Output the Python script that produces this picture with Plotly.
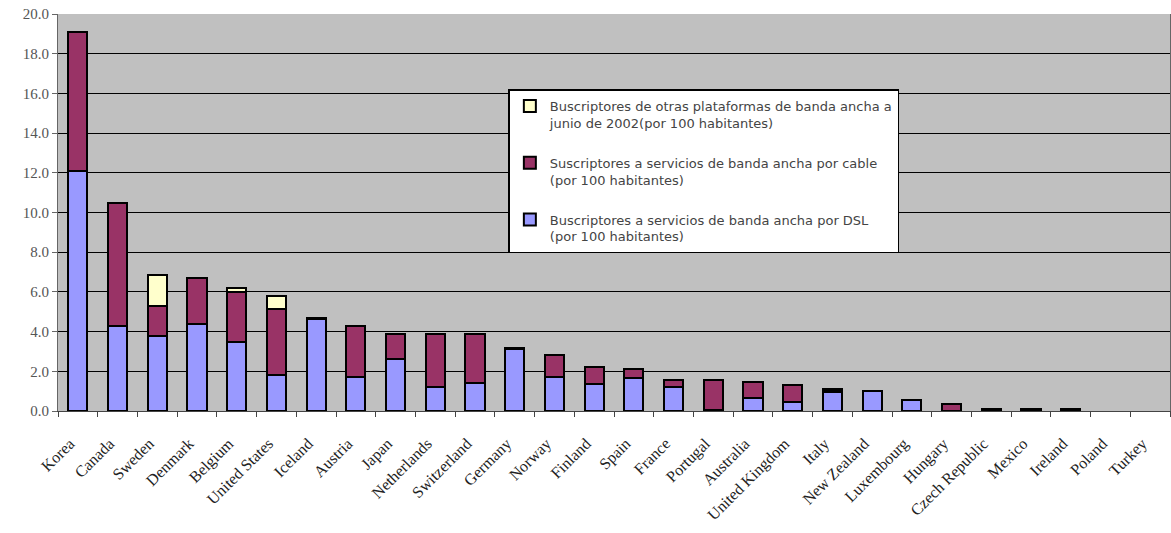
import plotly.graph_objects as go

countries = ["Korea", "Canada", "Sweden", "Denmark", "Belgium", "United States", "Iceland",
             "Austria", "Japan", "Netherlands", "Switzerland", "Germany", "Norway", "Finland",
             "Spain", "France", "Portugal", "Australia", "United Kingdom", "Italy", "New Zealand",
             "Luxembourg", "Hungary", "Czech Republic", "Mexico", "Ireland", "Poland", "Turkey"]

dsl = [12.1, 4.3, 3.8, 4.4, 3.5, 1.8, 4.65, 1.7, 2.6, 1.2, 1.4, 3.1, 1.7, 1.35,
       1.65, 1.2, 0.05, 0.65, 0.45, 0.95, 1.0, 0.55, 0, 0, 0, 0, 0, 0]
cable = [7.0, 6.2, 1.5, 2.3, 2.5, 3.35, 0.05, 2.6, 1.3, 2.7, 2.5, 0.05, 1.1, 0.85,
         0.45, 0.35, 1.5, 0.8, 0.85, 0.05, 0, 0, 0.35, 0.08, 0.08, 0.08, 0, 0]
other = [0, 0, 1.55, 0, 0.2, 0.65, 0, 0, 0, 0, 0, 0, 0, 0,
         0, 0, 0, 0, 0, 0.1, 0, 0, 0, 0, 0, 0, 0, 0]

name_dsl = "Buscriptores a servicios de banda ancha por DSL<br>(por 100 habitantes)"
name_cable = "Suscriptores a servicios de banda ancha por cable<br>(por 100 habitantes)"
name_other = "Buscriptores de otras plataformas de banda ancha a<br>junio de 2002(por 100 habitantes)"

y_ticks = [0, 2, 4, 6, 8, 10, 12, 14, 16, 18, 20]


def nz(vals):
    return [v if v else None for v in vals]


fig = go.Figure()
for vals, name, color, grp, rank in [(dsl, name_dsl, "#9999FF", "a", 3),
                                     (cable, name_cable, "#993366", "b", 2),
                                     (other, name_other, "#FFFFCC", "c", 1)]:
    fig.add_trace(go.Bar(
        x=countries, y=nz(vals), name=name, legendgroup=grp, legendrank=rank,
        marker=dict(color=color, line=dict(color="black", width=2)),
    ))

fig.update_layout(
    barmode="stack",
    bargap=0.52,
    width=1171, height=533,
    margin=dict(l=58, r=1, t=14, b=122),
    paper_bgcolor="white",
    plot_bgcolor="#C0C0C0",
    font=dict(family="Liberation Serif, Times New Roman, serif", size=13, color="#222"),
    legend=dict(
        x=0.405, y=0.81, xanchor="left", yanchor="top",
        bgcolor="white", bordercolor="black", borderwidth=1.5,
        traceorder="grouped", tracegroupgap=20, valign="top",
        font=dict(family="DejaVu Sans, Verdana, sans-serif", size=13, color="#444"),
    ),
    xaxis=dict(
        type="category", tickangle=-45, tickson="boundaries", ticks="outside",
        ticklen=5, tickcolor="#444", showline=True, linecolor="#444", linewidth=1,
        mirror=False, showgrid=False, ticklabelstandoff=16, ticklabelshift=-8,
        tickfont=dict(family="Liberation Serif, Times New Roman, serif", size=16, color="#222"),
    ),
    yaxis=dict(
        range=[0, 20], tickvals=y_ticks, tickformat=".1f",
        showgrid=True, gridcolor="black", gridwidth=1, zeroline=False,
        showline=True, linecolor="#666", linewidth=1, ticks="outside", ticklen=5,
        tickcolor="#666", mirror=True,
        tickfont=dict(family="Liberation Serif, Times New Roman, serif", size=15, color="#555"),
    ),
    showlegend=True,
)

fig.write_html("out.html")
